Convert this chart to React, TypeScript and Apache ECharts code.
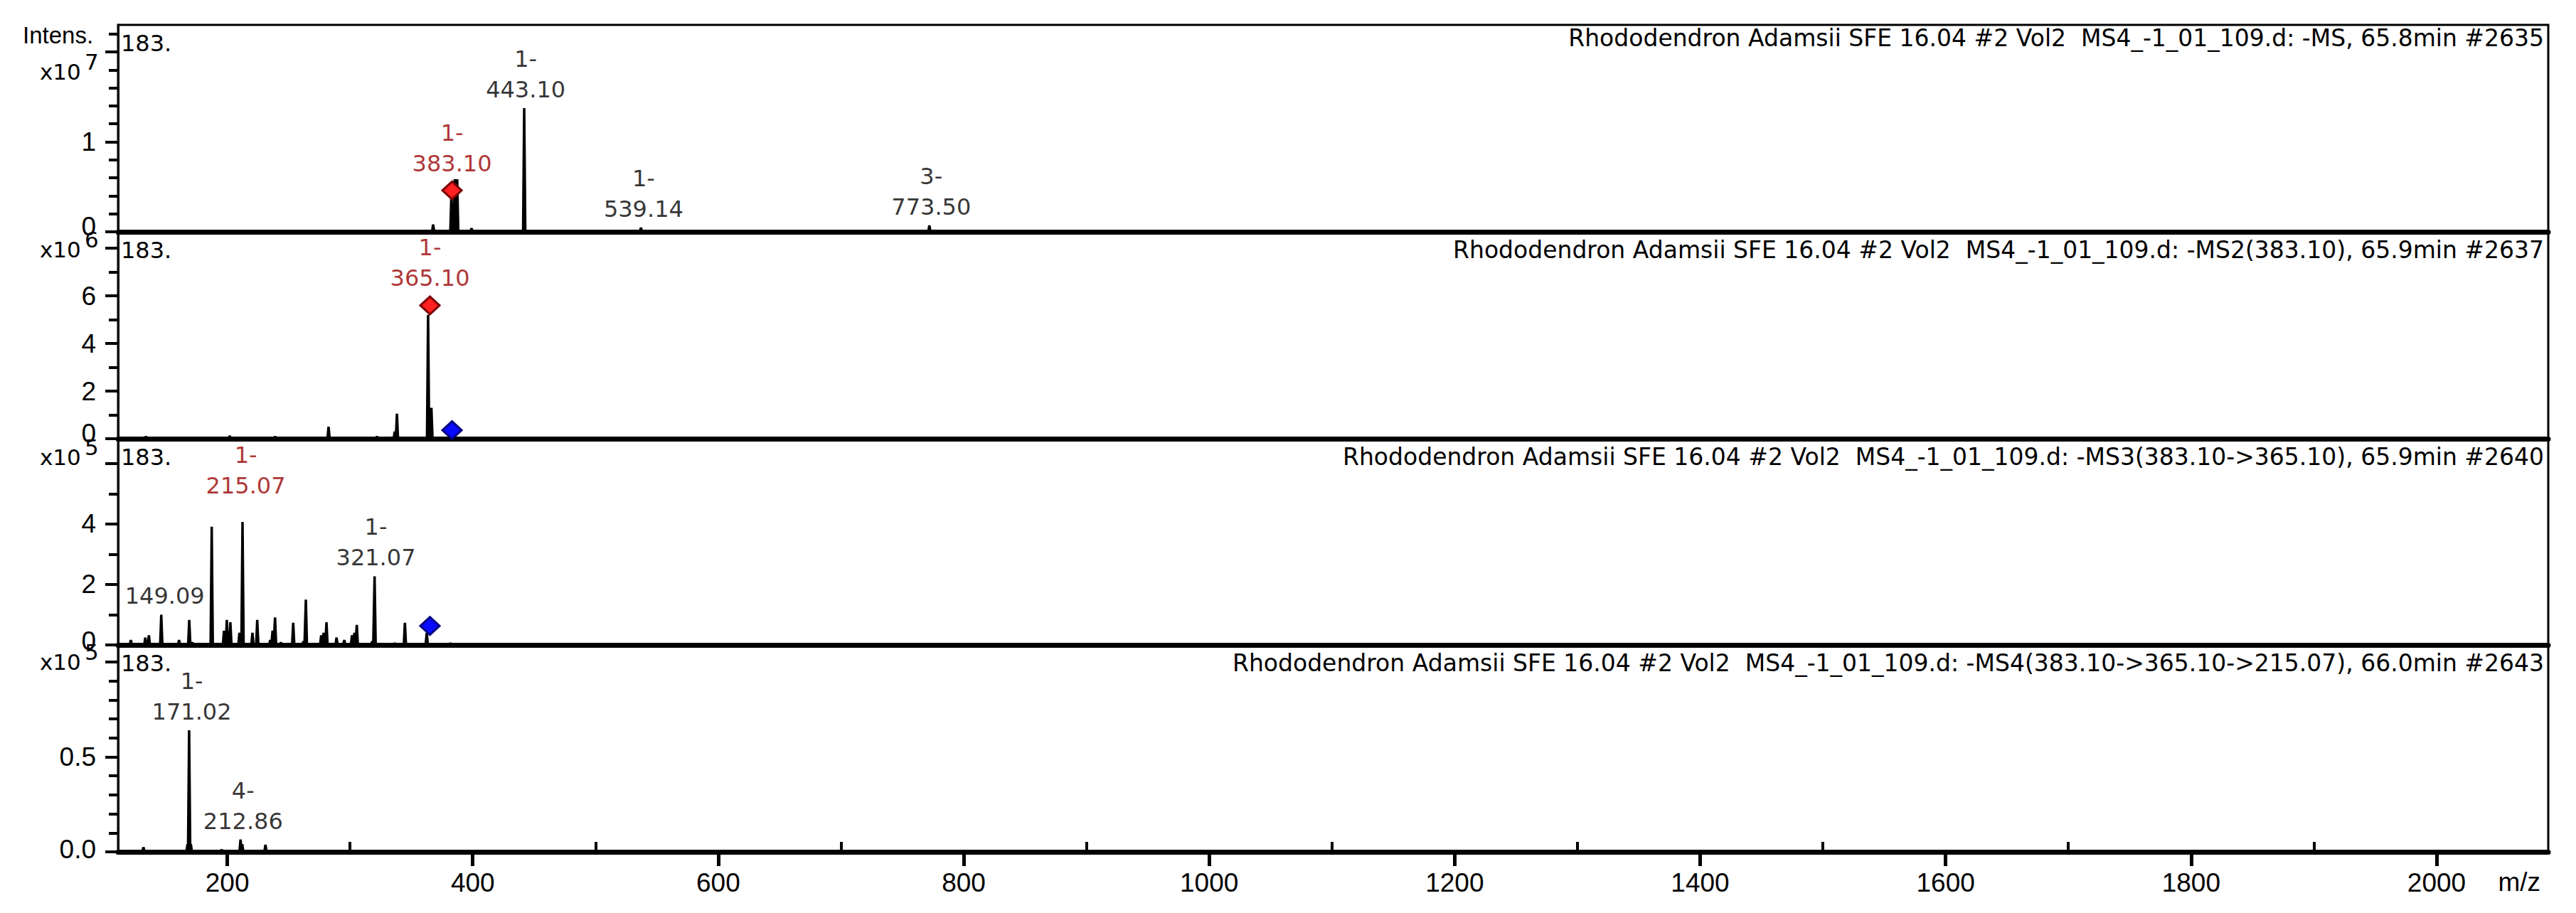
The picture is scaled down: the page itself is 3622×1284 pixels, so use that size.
import React, { useEffect, useRef } from 'react';
import * as echarts from 'echarts';

// ---------------- data ----------------
const mzMin = 111;
const mzMax = 2091;
const xLabelTicks = [200, 400, 600, 800, 1000, 1200, 1400, 1600, 1800, 2000];
const xMinorTicks = [300, 500, 700, 900, 1100, 1300, 1500, 1700, 1900];

const panelTitles = [
  'Rhododendron Adamsii SFE 16.04 #2 Vol2  MS4_-1_01_109.d: -MS, 65.8min #2635',
  'Rhododendron Adamsii SFE 16.04 #2 Vol2  MS4_-1_01_109.d: -MS2(383.10), 65.9min #2637',
  'Rhododendron Adamsii SFE 16.04 #2 Vol2  MS4_-1_01_109.d: -MS3(383.10->365.10), 65.9min #2640',
  'Rhododendron Adamsii SFE 16.04 #2 Vol2  MS4_-1_01_109.d: -MS4(383.10->365.10->215.07), 66.0min #2643',
];
const exponents = [7, 6, 5, 5];
const intensityMax = [2.3e7, 8.69e6, 6.82e5, 1.09e5];
const yLabelTicks = [[0, 1e7], [0, 2e6, 4e6, 6e6], [0, 2e5, 4e5], [0, 0.5e5]];
const yMajorTicks = [[0, 1e7, 2e7], [0, 2e6, 4e6, 6e6, 8e6], [0, 2e5, 4e5, 6e5], [0, 0.5e5, 1e5]];
const yMinorTicks = [
  [0.2e7, 0.4e7, 0.6e7, 0.8e7, 1.2e7, 1.4e7, 1.6e7, 1.8e7, 2.2e7],
  [1e6, 3e6, 5e6, 7e6],
  [1e5, 3e5, 5e5],
  [0.1e5, 0.2e5, 0.3e5, 0.4e5, 0.6e5, 0.7e5, 0.8e5, 0.9e5],
];
const yLabelDecimals = [0, 0, 0, 1];
const cornerText = ['183.', '183.', '183.', '183.'];

// peaks: [m/z, intensity]
const ms1Peaks = [
  [367.7, 0.08e7], [382.6, 0.42e7], [385.3, 0.585e7], [387.3, 0.585e7],
  [399.0, 0.04e7], [441.9, 1.375e7], [537.0, 0.045e7], [772.0, 0.07e7],
];
const ms2Peaks = [
  [133.6, 0.1e6], [202.0, 0.12e6], [239.0, 0.1e6], [282.5, 0.5e6], [322.0, 0.1e6],
  [336.4, 0.3e6], [338.2, 1.05e6], [363.6, 5.2e6], [366.3, 1.3e6],
];
const ms3Peaks = [
  [121.4, 0.16e5], [133.2, 0.24e5], [136.1, 0.32e5], [146.2, 1.0e5], [160.7, 0.16e5],
  [169.0, 0.83e5], [171.5, 0.08e5], [187.3, 3.91e5], [197.3, 0.47e5], [199.6, 0.83e5],
  [202.5, 0.75e5], [209.9, 0.4e5], [212.4, 4.07e5], [220.5, 0.4e5], [224.4, 0.83e5],
  [235.0, 0.16e5], [236.9, 0.47e5], [238.9, 0.91e5], [243.7, 0.08e5], [253.7, 0.73e5],
  [262.0, 0.12e5], [264.0, 1.5e5], [276.5, 0.32e5], [278.5, 0.4e5], [280.8, 0.75e5],
  [289.0, 0.24e5], [295.3, 0.16e5], [301.6, 0.32e5], [303.6, 0.4e5], [305.5, 0.66e5],
  [318.0, 0.12e5], [320.0, 2.27e5], [336.4, 0.06e5], [344.7, 0.73e5], [362.5, 0.4e5],
  [381.8, 0.06e5],
];
const ms4Peaks = [
  [131.7, 0.025e5], [167.6, 0.04e5], [168.9, 0.64e5], [170.3, 0.04e5], [195.4, 0.012e5],
  [210.8, 0.065e5], [212.2, 0.04e5], [231.1, 0.037e5],
];

// peak annotations: [m/z, intensity at label anchor, charge]
const ms1Labels = [[443.10, 1.375e7, '1-'], [383.10, 0.553e7, '1-'], [539.14, 0.045e7, '1-'], [773.50, 0.07e7, '3-']];
const ms2Labels = [[365.10, 5.97e6, '1-']];
const ms3Labels = [[149.09, 1.0e5, ''], [215.07, 4.07e5, '1-'], [321.07, 2.27e5, '1-']];
const ms4Labels = [[171.02, 0.64e5, '1-'], [212.86, 0.065e5, '4-']];
const isolatedMz = [383.10, 365.10, 215.07, null];

// precursor markers: [m/z, intensity]
const redMarks = [[[383.10, 0.46e7]], [[365.10, 5.6e6]], [], []];
const blueMarks = [[], [[383.10, 0.36e6]], [[365.10, 0.63e5]], []];

const panelPeaks = [ms1Peaks, ms2Peaks, ms3Peaks, ms4Peaks];
const panelLabels = [ms1Labels, ms2Labels, ms3Labels, ms4Labels];

// ---------------- layout / style ----------------
const GRID_LEFT = 166;
const GRID_RIGHT = 39;
const gridTops = [35, 326, 617, 907];
const gridHeights = [291, 291, 290, 291];
const titleTops = [37, 335, 626, 916];
const zeroLabelRaise = [16, 16, 12, 8];
const AXIS_FONT = 'Liberation Sans';
const LABEL_FONT = 'DejaVu Sans';
const RED_TEXT = '#990000';
const labelLift: Record<string, number> = { '215.07': 25 };

function spikes(peaks: number[][]) {
  const sorted = [...peaks].sort((a, b) => a[0] - b[0]);
  const pts: number[][] = [[mzMin, 0]];
  sorted.forEach(([mz, h]) => {
    pts.push([mz - 0.9, 0], [mz, h], [mz + 0.9, 0]);
  });
  pts.push([mzMax, 0]);
  return pts;
}

export default function App() {
  const ref = useRef<HTMLDivElement>(null);

  useEffect(() => {
    if (!ref.current) return;
    const chart = echarts.init(ref.current, undefined, { renderer: 'svg' });

    const grids = gridTops.map((t, i) => ({
      left: GRID_LEFT,
      right: GRID_RIGHT,
      top: t,
      height: gridHeights[i],
      show: true,
      borderColor: '#000',
      borderWidth: 3,
      backgroundColor: 'transparent',
    }));

    const xAxes: any[] = gridTops.map((_, i) => ({
      type: 'value',
      gridIndex: i,
      min: mzMin,
      max: mzMax,
      axisLine: { show: true, onZero: false, lineStyle: { color: '#000', width: 7 } },
      axisTick: i === 3
        ? { show: true, customValues: xLabelTicks, length: 20, lineStyle: { color: '#000', width: 5 } }
        : { show: false },
      axisLabel: i === 3
        ? {
            show: true,
            customValues: xLabelTicks,
            margin: 25,
            fontSize: 37,
            fontFamily: AXIS_FONT,
            color: '#000',
            formatter: (v: number) => String(v),
          }
        : { show: false },
      splitLine: { show: false },
    }));
    xAxes.push({
      type: 'value',
      gridIndex: 3,
      min: mzMin,
      max: mzMax,
      axisLine: { show: false },
      axisTick: { show: true, customValues: xMinorTicks, length: 14, lineStyle: { color: '#000', width: 4 } },
      axisLabel: { show: false },
      splitLine: { show: false },
    });

    const yAxes: any[] = [];
    gridTops.forEach((_, i) => {
      yAxes.push({
        type: 'value',
        gridIndex: i,
        min: 0,
        max: intensityMax[i],
        position: 'left',
        axisLine: { show: true, onZero: false, lineStyle: { color: '#000', width: 3 } },
        axisTick: { show: true, customValues: yMajorTicks[i], length: 18, lineStyle: { color: '#000', width: 4 } },
        axisLabel: {
          show: true,
          customValues: yLabelTicks[i],
          margin: 31,
          fontSize: 37,
          fontFamily: AXIS_FONT,
          color: '#000',
          formatter: (v: number) => {
            const txt = (v / Math.pow(10, exponents[i])).toFixed(yLabelDecimals[i]);
            return v === 0 ? `{z|${txt}}` : `{n|${txt}}`;
          },
          rich: {
            z: { fontSize: 37, fontFamily: AXIS_FONT, color: '#000', padding: [0, 0, zeroLabelRaise[i], 0] },
            n: { fontSize: 37, fontFamily: AXIS_FONT, color: '#000' },
          },
        },
        splitLine: { show: false },
      });
    });
    gridTops.forEach((_, i) => {
      yAxes.push({
        type: 'value',
        gridIndex: i,
        min: 0,
        max: intensityMax[i],
        position: 'left',
        axisLine: { show: false },
        axisTick: { show: true, customValues: yMinorTicks[i], length: 13, lineStyle: { color: '#000', width: 4 } },
        axisLabel: { show: false },
        splitLine: { show: false },
      });
    });

    const series: any[] = [];
    gridTops.forEach((_, i) => {
      series.push({
        type: 'line',
        xAxisIndex: i,
        yAxisIndex: i,
        data: spikes(panelPeaks[i]),
        symbol: 'none',
        lineStyle: { color: '#000', width: 3.5 },
        z: 3,
        silent: true,
      });
      series.push({
        type: 'scatter',
        xAxisIndex: i,
        yAxisIndex: i,
        clip: false,
        symbolSize: 1,
        itemStyle: { color: 'rgba(0,0,0,0)' },
        z: 6,
        data: panelLabels[i].map((l: any) => {
          const txt = (l[0] as number).toFixed(2);
          const red = isolatedMz[i] !== null && Math.abs((isolatedMz[i] as number) - l[0]) < 0.001;
          const color = red ? RED_TEXT : '#000';
          const tok = { fontSize: 32, fontFamily: LABEL_FONT, lineHeight: 43, color, backgroundColor: '#fff', padding: [0, 1] };
          return {
            value: [l[0], l[1]],
            label: {
              show: true,
              position: 'top',
              distance: 4 + (labelLift[txt] || 0),
              align: 'center',
              formatter: l[2] ? `{c|${l[2]}}\n{n|${txt}}` : `{n|${txt}}`,
              rich: { c: tok, n: tok },
            },
          };
        }),
      });
      series.push({
        type: 'scatter',
        xAxisIndex: i,
        yAxisIndex: i,
        clip: false,
        symbol: 'diamond',
        symbolSize: [27, 25],
        z: 5,
        itemStyle: { color: '#ff2020', borderColor: '#7a0000', borderWidth: 3, opacity: 1 },
        data: redMarks[i],
      });
      series.push({
        type: 'scatter',
        xAxisIndex: i,
        yAxisIndex: i,
        clip: false,
        symbol: 'diamond',
        symbolSize: [27, 25],
        z: 5,
        itemStyle: { color: '#0a0aff', borderColor: '#000080', borderWidth: 3, opacity: 1 },
        data: blueMarks[i],
      });
    });

    const expTop = [85, 335, 627, 915];
    const graphics: any[] = [
      { type: 'text', left: 32, top: 33, style: { text: 'Intens.', fontSize: 33, fontFamily: AXIS_FONT, fill: '#000' } },
      { type: 'text', right: 50, top: 1222, style: { text: 'm/z', fontSize: 37, fontFamily: AXIS_FONT, fill: '#000' } },
    ];
    gridTops.forEach((t, i) => {
      graphics.push({ type: 'text', left: 56, top: expTop[i], style: { text: 'x10', fontSize: 31, fontFamily: LABEL_FONT, fill: '#000' } });
      graphics.push({ type: 'text', left: 119, top: expTop[i] - 14, style: { text: String(exponents[i]), fontSize: 31, fontFamily: LABEL_FONT, fill: '#000' } });
      graphics.push({ type: 'text', left: 170, top: t + 10, z: 10, style: { text: cornerText[i], fontSize: 32, fontFamily: LABEL_FONT, fill: '#000' } });
    });

    chart.setOption({
      animation: false,
      backgroundColor: '#fff',
      title: panelTitles.map((t, i) => ({
        text: t,
        right: 45,
        top: titleTops[i],
        padding: 0,
        textStyle: { fontSize: 33, fontWeight: 'normal', fontFamily: LABEL_FONT, color: '#000' },
      })),
      grid: grids,
      xAxis: xAxes,
      yAxis: yAxes,
      series,
      graphic: graphics,
    });

    return () => chart.dispose();
  }, []);

  return <div ref={ref} style={{ position: 'absolute', left: 0, top: 0, width: 3622, height: 1284 }} />;
}
